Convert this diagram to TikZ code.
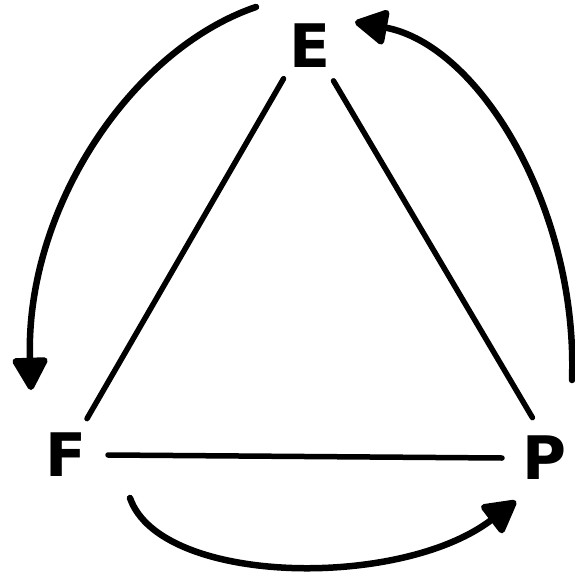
\documentclass[tikz,border=0pt]{standalone}
\usepackage{fontspec}
\setsansfont{DejaVu Sans}
\usetikzlibrary{arrows.meta}
\begin{document}
\begin{tikzpicture}[x=1pt,y=-1pt,
  letter/.style={circle,minimum size=84pt,inner sep=0pt,outer sep=0pt,
    font=\sffamily\bfseries\fontsize{60}{60}\selectfont},
  side/.style={line width=5.5pt,line cap=round},
  arc/.style={line width=6.5pt,line cap=round,
    -{Triangle[round,length=36pt,width=38pt]}}]
\useasboundingbox (0,0) rectangle (574,588);
\node[letter] (E) at (310,46) {E};
\node[letter] (F) at (66,455) {F};
\node[letter] (P) at (544,458) {P};
\draw[side] (E.231) -- (F.60);
\draw[side] (E.304) -- (P.106);
\draw[side] (F.0) -- (P.180);
\draw[arc] ([shift={(-54,-39)}]E.center) .. controls (130,50) and (25,210) .. ([shift={(-35,-65)}]F.center);
\draw[arc] ([shift={(28,-78)}]P.center) .. controls (578,210) and (480,45) .. ([shift={(45,-24)}]E.center);
\draw[arc] ([shift={(64,43)}]F.center) .. controls (160,585) and (400,590) .. ([shift={(-28,43)}]P.center);
\end{tikzpicture}
\end{document}
